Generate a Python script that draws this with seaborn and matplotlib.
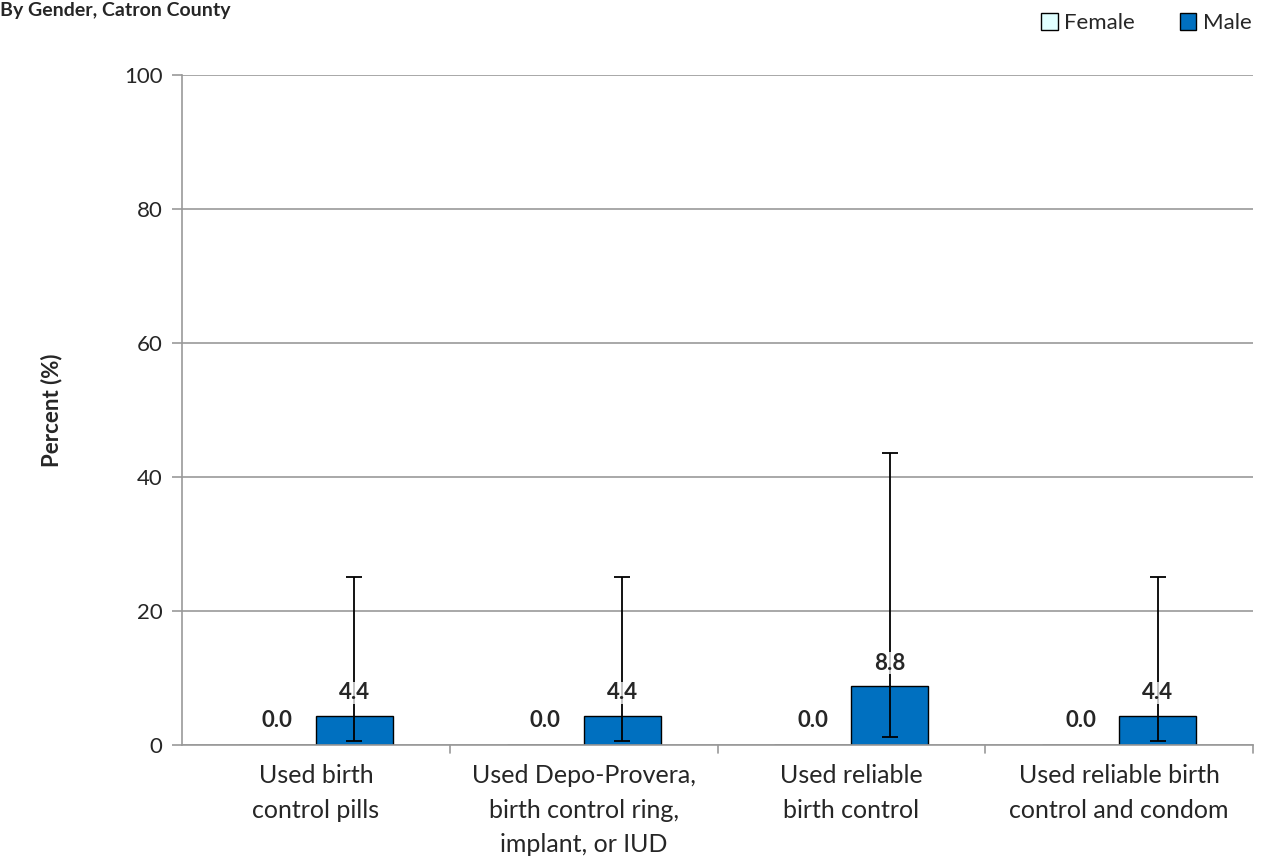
import matplotlib.pyplot as plt
import seaborn as sns
import pandas as pd
from matplotlib.patches import Patch

# Data
categories = ['Used birth\ncontrol pills',
              'Used Depo-Provera,\nbirth control ring,\nimplant, or IUD',
              'Used reliable\nbirth control',
              'Used reliable birth\ncontrol and condom']
female = [0.0, 0.0, 0.0, 0.0]
male = [4.4, 4.4, 8.8, 4.4]
male_low = [0.6, 0.6, 1.2, 0.6]
male_high = [25.1, 25.1, 43.6, 25.1]

df = pd.DataFrame({
    'Category': categories * 2,
    'Gender': ['Female'] * 4 + ['Male'] * 4,
    'Percent': female + male,
})

sns.set_style('white')
plt.rcParams['font.family'] = ['Lato', 'DejaVu Sans']

fig = plt.figure(figsize=(12.65, 8.67), dpi=100)
ax = fig.add_axes([182 / 1265, 1 - 745 / 867, (1253 - 182) / 1265, (745 - 75) / 867])

palette = {'Female': '#E0FFFF', 'Male': '#0070C0'}
sns.barplot(data=df, x='Category', y='Percent', hue='Gender', palette=palette,
            width=0.575, gap=0, saturation=1, edgecolor='black', linewidth=1,
            errorbar=None, ax=ax, legend=False)

# error bars + value labels
n = len(categories)
female_bars = ax.patches[:n]
male_bars = ax.patches[n:2 * n]
for i, p in enumerate(male_bars):
    xc = p.get_x() + p.get_width() / 2
    ax.errorbar(xc, male[i], yerr=[[male[i] - male_low[i]], [male_high[i] - male[i]]],
                fmt='none', ecolor='black', elinewidth=1.3, capsize=6, capthick=1.3, zorder=3)
    ax.text(xc, male[i] + 3.4, f'{male[i]:.1f}', ha='center', va='center',
            fontsize=16, fontweight='bold', zorder=4,
            bbox=dict(facecolor='white', edgecolor='none', alpha=0.75, pad=0.5))
for i, p in enumerate(female_bars):
    xc = p.get_x() + p.get_width() / 2
    ax.text(xc, female[i] + 3.7, f'{female[i]:.1f}', ha='center', va='center',
            fontsize=16, fontweight='bold', zorder=4)

ax.set_ylim(0, 100)
ax.set_xlim(-0.5, n - 0.5)
ax.set_yticks([0, 20, 40, 60, 80, 100])
ax.yaxis.grid(True, color='#999999', linewidth=1.2)
ax.set_axisbelow(True)
ax.tick_params(axis='y', length=7, color='#999999', width=1.2, labelsize=16, pad=7,
               left=True)
ax.tick_params(axis='x', length=0, labelsize=18, pad=14)
ax.set_xticks(range(n))
ax.set_xticklabels(categories, linespacing=1.6)
for b in [0.5, 1.5, 2.5, 3.5]:
    ax.plot([b, b], [0, -0.012], transform=ax.get_xaxis_transform(), color='#999999',
            linewidth=1.2, clip_on=False)
for s in ['top', 'right']:
    ax.spines[s].set_visible(False)
for s in ['left', 'bottom']:
    ax.spines[s].set_color('#999999')
    ax.spines[s].set_linewidth(1.2)
ax.set_xlabel('')
ax.set_ylabel('Percent (%)', fontsize=16, fontweight='bold', labelpad=44)

# legend
handles = [Patch(facecolor=palette[g], edgecolor='black', linewidth=1, label=g)
           for g in ['Female', 'Male']]
fig.legend(handles=handles, loc='upper right', bbox_to_anchor=(1.0, 1.0), ncol=2,
           frameon=False, fontsize=16, handlelength=0.75, handleheight=0.75,
           handletextpad=0.3, columnspacing=2.0, borderaxespad=0.2)

# title (cut off at the top in the reference, kept fully visible here)
fig.text(0.0, 1 - 2 / 867, 'By Gender, Catron County', ha='left', va='top',
         fontsize=14, fontweight='bold')

fig.savefig('out.png', dpi=100)
